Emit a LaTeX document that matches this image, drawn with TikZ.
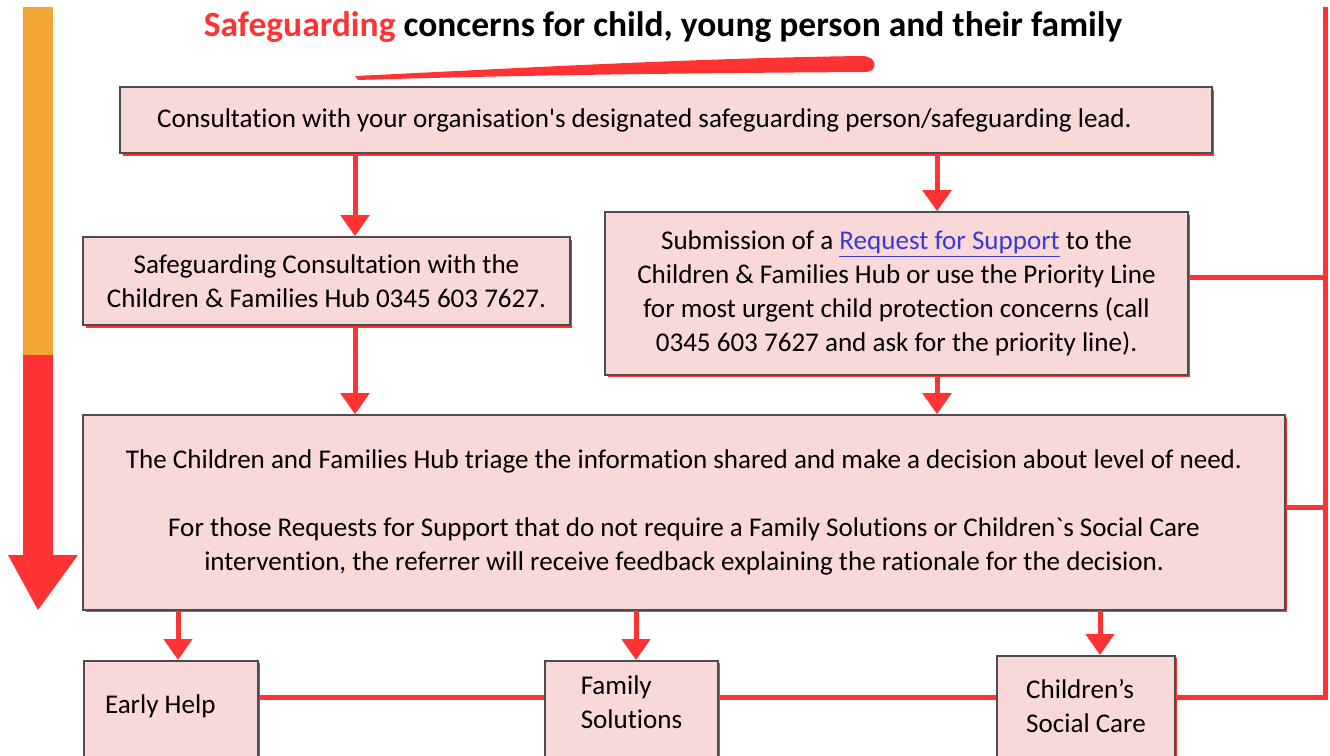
\documentclass[tikz,border=0pt]{standalone}
\usepackage{fontspec}
\setmainfont{Carlito}[Ligatures={TeXOff,NoCommon}]
\usetikzlibrary{arrows.meta,shadows}
\definecolor{sgred}{HTML}{FF3333}
\definecolor{sgorange}{HTML}{F4A634}
\definecolor{boxpink}{HTML}{F9D8D8}
\definecolor{boxgrey}{HTML}{4D4D4D}
\definecolor{linkblue}{HTML}{3A3AD6}
\begin{document}
\begin{tikzpicture}[x=0.02cm,y=-0.02cm,
  box/.style={draw=boxgrey,line width=0.9pt,fill=boxpink,
    drop shadow={shadow xshift=0.05cm,shadow yshift=-0.05cm,fill=sgred,opacity=1},
    font=\fontsize{15.4}{19.4}\selectfont,align=center,inner sep=0pt},
  endbox/.style={box,anchor=north,align=left,text depth=1.8cm},
  arr/.style={sgred,line width=0.1cm,-{Triangle[width=0.56cm,length=0.42cm]}},
  link/.style={sgred,line width=0.1cm}]
\useasboundingbox (0,0) rectangle (1330,755);
\clip (0,0) rectangle (1330,755);
%time line arrow
\fill[sgorange] (23,7) rectangle (53,355);
\fill[sgred] (23,355) -- (53,355) -- (53,555) -- (78,555) -- (38,610) -- (8,555) -- (23,555) -- cycle;
%title
\node (title) at (663,27) {\fontsize{20.2}{24}\selectfont\bfseries\textcolor{sgred}{Safeguarding} concerns for child, young person and their family};
\fill[sgred] (355,76) .. controls (520,68) and (700,58) .. (862,56) .. controls (878,56) and (878,72) .. (866,72) .. controls (700,73) and (520,75) .. (358,80) -- cycle;
%boxes
\node[box,align=flush left,inner xsep=0.74cm,text width=20.36cm,minimum height=1.32cm] (consult) at (666,120) {Consultation with your organisation's designated safeguarding person/safeguarding lead.};
\node[box,minimum width=9.74cm,minimum height=1.76cm] (hubcall) at (326.5,281) {Safeguarding Consultation with the\\Children \& Families Hub 0345 603 7627.};
\node[box,minimum width=11.66cm,minimum height=3.26cm] (request) at (896.5,293.5) {Submission of a \textcolor{linkblue}{\underline{Request for Support}} to the\\Children \& Families Hub or use the Priority Line\\for most urgent child protection concerns (call\\0345 603 7627 and ask for the priority line).};
\node[box,minimum width=24.04cm,minimum height=3.9cm] (triage) at (684,512.5) {The Children and Families Hub triage the information shared and make a decision about level of need.\\[\baselineskip]For those Requests for Support that do not require a Family Solutions or Children`s Social Care\\intervention, the referrer will receive feedback explaining the rationale for the decision.};
\node[endbox,align=flush left,inner xsep=0.42cm,text width=2.64cm,text height=1.06cm] (early) at (171,660) {Early Help};
\node[endbox,minimum width=3.46cm,text height=1.36cm] (famsol) at (631.5,660) {Family\\Solutions};
\node[endbox,minimum width=3.56cm,text height=1.54cm] (social) at (1086,655) {Children’s\\Social Care};
%columns and joins
\coordinate (lcol) at (355,0);
\coordinate (rcol) at (937,0);
\coordinate (ehcol) at (178,0);
\coordinate (fscol) at (636,0);
\coordinate (sccol) at (1100,0);
\coordinate (railtop) at (1325,7);
\coordinate (railbot) at (1325,697);
\coordinate (reqjoin) at (1325,277);
\coordinate (triagejoin) at (1325,507);
%arrows
\draw[arr] (consult.south -| lcol) -- (hubcall.north -| lcol);
\draw[arr] (consult.south -| rcol) -- (request.north -| rcol);
\draw[arr] (hubcall.south -| lcol) -- (triage.north -| lcol);
\draw[arr] (request.south -| rcol) -- (triage.north -| rcol);
\draw[arr] (triage.south -| ehcol) -- (early.north -| ehcol);
\draw[arr] (triage.south -| fscol) -- (famsol.north -| fscol);
\draw[arr] (triage.south -| sccol) -- (social.north -| sccol);
%lines to the rail
\draw[link] (request.east |- reqjoin) -- (reqjoin);
\draw[link] (triage.east |- triagejoin) -- (triagejoin);
\draw[link] (early.east |- railbot) -- (famsol.west |- railbot);
\draw[link] (famsol.east |- railbot) -- (social.west |- railbot);
\draw[link] (social.east |- railbot) -- (railbot) -- (railtop);
\end{tikzpicture}
\end{document}
